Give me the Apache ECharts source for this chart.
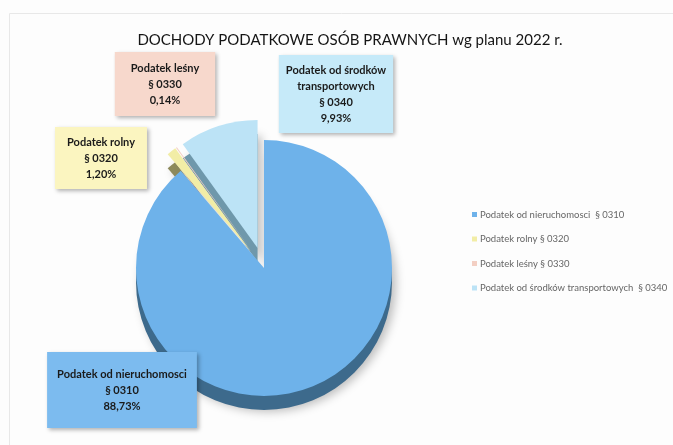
<!DOCTYPE html>
<html>
<head>
<meta charset="utf-8">
<script src="https://cdn.jsdelivr.net/npm/echarts@6/dist/echarts.min.js"></script>
<style>
  html, body { margin: 0; padding: 0; background: #fdfdfd; }
  #chart { width: 673px; height: 445px; }
</style>
</head>
<body>
<div id="chart"></div>
<script>
// data
const legendNames = [
  "Podatek od nieruchomosci  § 0310",
  "Podatek rolny § 0320",
  "Podatek leśny § 0330",
  "Podatek od środków transportowych  § 0340"
];
const labelNames = ["Podatek od nieruchomosci", "Podatek rolny", "Podatek leśny", "Podatek od środków\ntransportowych"];
const codes = ["§ 0310", "§ 0320", "§ 0330", "§ 0340"];
const shares = [88.73, 1.20, 0.14, 9.93];
const exploded = [false, true, true, true];

// styling
const topColors  = ["#6eb2ea", "#f2eda6", "#f3cfc3", "#bce3f6"];
const sideColors = ["#3d6a8c", "#8d8a5c", "#9a8079", "#6f98ab"];
const boxColors  = ["#7cbbef", "#fbf5c0", "#f7d8cc", "#c6eaf9"];
const boxCenters = [[122, 390], [101, 158], [165, 84], [336, 94]];
const boxPadding = [[14, 10], [7, 12], [8, 16], [7, 7]];

const CX = 264, CY = 268, R = 128, DEPTH = 14, EXPLODE = 21;

const fmt = (v) => v.toFixed(2).replace(".", ",") + "%";

const topData = shares.map((v, i) => ({
  name: legendNames[i],
  value: v,
  selected: exploded[i],
  itemStyle: { color: topColors[i] },
  select: { itemStyle: { color: topColors[i] } }
}));

const sideData = shares.map((v, i) => ({
  name: "_side" + i,
  value: v,
  selected: exploded[i],
  itemStyle: { color: sideColors[i] },
  select: { itemStyle: { color: sideColors[i] } }
}));

// invisible copy that only carries the label boxes
const labelData = shares.map((v, i) => ({
  name: legendNames[i],
  value: v,
  label: {
    formatter: labelNames[i] + "\n" + codes[i] + "\n" + fmt(v),
    backgroundColor: boxColors[i],
    padding: boxPadding[i]
  }
}));

const chart = echarts.init(document.getElementById("chart"), null, { renderer: "canvas" });

chart.setOption({
  animation: false,
  backgroundColor: "#fdfdfd",
  title: {
    text: "DOCHODY PODATKOWE OSÓB PRAWNYCH wg planu 2022 r.",
    left: 345,
    textAlign: "center",
    top: 28,
    textStyle: { fontFamily: "Lato", fontSize: 15, fontWeight: "normal", color: "#151515" }
  },
  legend: {
    orient: "vertical",
    left: 467,
    top: 204,
    data: legendNames,
    icon: "rect",
    itemWidth: 5,
    itemHeight: 5,
    itemGap: 13.5,
    selectedMode: false,
    textStyle: { fontFamily: "Lato", fontSize: 9.5, color: "#666", lineHeight: 11, padding: [0, 0, 0, -2] }
  },
  graphic: [{
    type: "rect",
    silent: true,
    shape: { x: 9.5, y: 13.5, width: 680, height: 440 },
    style: { fill: "none", stroke: "#e8e8e8", lineWidth: 1 }
  }],
  series: [
    {
      type: "pie",
      z: 2,
      center: [CX, CY],
      radius: R,
      startAngle: 90,
      selectedMode: "multiple",
      selectedOffset: EXPLODE,
      label: { show: false },
      labelLine: { show: false },
      emphasis: { scale: false },
      data: topData
    },
    {
      // side of the "3D" pie
      type: "pie",
      silent: true,
      z: 1,
      center: [CX, CY + DEPTH],
      radius: R,
      startAngle: 90,
      selectedMode: "multiple",
      selectedOffset: EXPLODE,
      label: { show: false },
      labelLine: { show: false },
      itemStyle: { shadowBlur: 10, shadowColor: "rgba(0,0,0,0.25)", shadowOffsetX: 4, shadowOffsetY: 2 },
      data: sideData
    },
    {
      type: "pie",
      silent: true,
      z: 3,
      center: [CX, CY],
      radius: R,
      startAngle: 90,
      avoidLabelOverlap: false,
      itemStyle: { color: "rgba(0,0,0,0)" },
      label: {
        show: true,
        position: "outside",
        fontFamily: "Lato",
        fontWeight: "bold",
        fontSize: 11,
        color: "#1a1a1a",
        lineHeight: 16,
        align: "center",
        shadowColor: "rgba(0,0,0,0.3)",
        shadowBlur: 4,
        shadowOffsetX: 2,
        shadowOffsetY: 2
      },
      labelLine: { show: false },
      labelLayout: (p) => ({
        x: boxCenters[p.dataIndex][0],
        y: boxCenters[p.dataIndex][1],
        align: "center",
        verticalAlign: "middle"
      }),
      data: labelData
    }
  ]
});
</script>
</body>
</html>
